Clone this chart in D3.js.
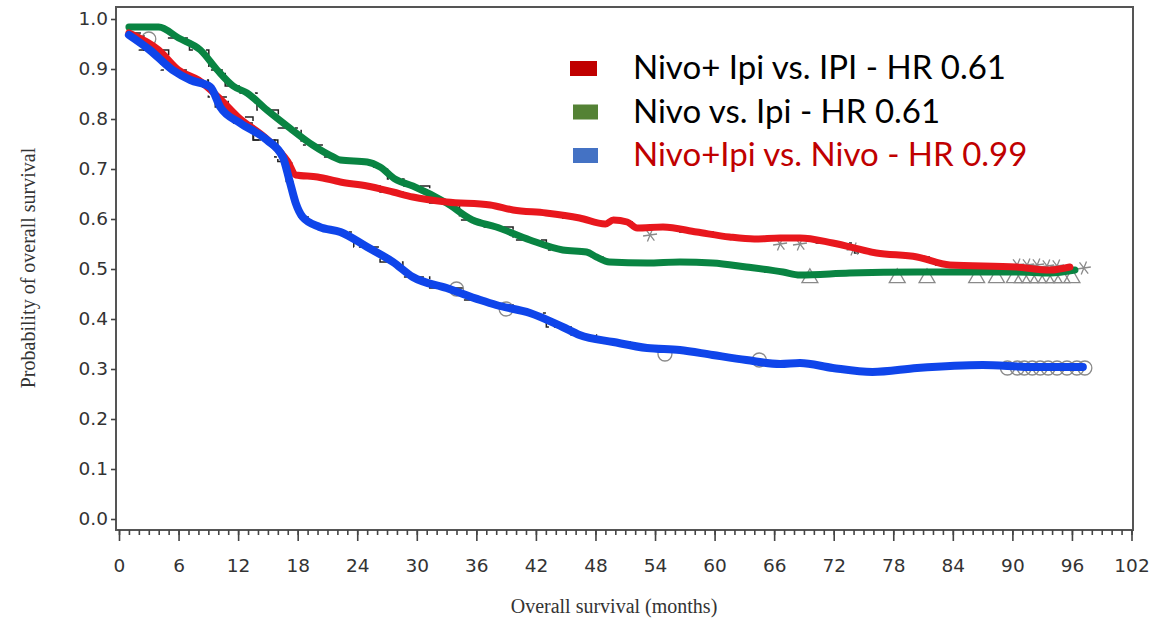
<!DOCTYPE html>
<html>
<head>
<meta charset="utf-8">
<script src="https://cdn.jsdelivr.net/npm/d3@7"></script>
<style>
  html, body { margin: 0; padding: 0; background: #fff; }
  svg { display: block; }
  .tick text { font-family: "DejaVu Sans", sans-serif; font-size: 18.5px; fill: #333; }
  .tick line { stroke: #444; stroke-width: 1.6; }
</style>
</head>
<body>
<svg id="canvas" width="1176" height="623"></svg>
<script>
// survival curves (months, probability)
const redMonths = [1, 4, 6, 8, 10, 12, 15, 17, 17.8, 20, 22.3, 25, 27.6, 29.6, 33, 37.4, 39.7, 43, 46.4, 49, 49.8, 51.2, 52.2, 54.8, 58.2, 61.5, 64, 66.6, 68.6, 71.9, 76.3, 80.4, 83.7, 90.4, 93.8, 95.8]
const redSurv = [0.972, 0.938, 0.898, 0.878, 0.844, 0.804, 0.758, 0.715, 0.688, 0.684, 0.674, 0.666, 0.654, 0.644, 0.634, 0.628, 0.618, 0.612, 0.602, 0.59, 0.598, 0.594, 0.582, 0.584, 0.574, 0.564, 0.56, 0.562, 0.562, 0.552, 0.532, 0.524, 0.508, 0.504, 0.498, 0.504]

const greenMonths = [1, 4, 6, 8.2, 9.9, 11.5, 12.9, 14.9, 17.2, 19.5, 21.6, 22.3, 25, 26.3, 27.8, 29.6, 33, 35.6, 38, 41.4, 44.7, 47.1, 48.1, 49.4, 53.2, 56.5, 59.8, 63.2, 66.9, 68.6, 73.6, 80.4, 90.4, 93.8, 96.3]
const greenSurv = [0.984, 0.984, 0.962, 0.938, 0.898, 0.866, 0.852, 0.818, 0.782, 0.748, 0.724, 0.718, 0.714, 0.704, 0.68, 0.666, 0.632, 0.598, 0.584, 0.558, 0.538, 0.534, 0.524, 0.514, 0.512, 0.514, 0.512, 0.504, 0.494, 0.488, 0.492, 0.494, 0.494, 0.492, 0.498]

const blueMonths = [1, 3.1, 5.4, 7.2, 9.2, 10.2, 12.2, 14.9, 16.5, 17.2, 17.8, 18.5, 20.2, 22.3, 25, 27.6, 29.6, 33, 36.4, 38, 41.4, 44.7, 46.4, 49.8, 53.2, 56.5, 59.8, 63.2, 66.6, 68.6, 71.9, 75.9, 80.4, 87, 92, 97.1]
const blueSurv = [0.968, 0.938, 0.898, 0.878, 0.864, 0.824, 0.792, 0.758, 0.724, 0.675, 0.632, 0.604, 0.584, 0.574, 0.544, 0.514, 0.484, 0.462, 0.438, 0.428, 0.412, 0.384, 0.368, 0.354, 0.342, 0.338, 0.328, 0.318, 0.31, 0.312, 0.302, 0.294, 0.302, 0.308, 0.304, 0.304]

// censored marks
const circleMonths = [3, 34, 39, 55, 64.5, 89.5, 90.5, 91.2, 92, 92.8, 93.6, 94.5, 95.5, 96.5, 97.3]
const circleSurv = [0.96, 0.46, 0.42, 0.33, 0.318, 0.302, 0.302, 0.302, 0.302, 0.302, 0.302, 0.302, 0.302, 0.302, 0.302]
const starMonths = [53.5, 66.6, 68.6, 74, 90.5, 91.5, 92.5, 93.5, 94.5, 97.2]
const starSurv = [0.568, 0.55, 0.55, 0.54, 0.508, 0.508, 0.508, 0.506, 0.506, 0.502]
const triMonths = [69.6, 78.4, 81.4, 86.4, 88.4, 90.2, 91, 91.8, 92.6, 93.4, 94.2, 95, 96]
const triSurv = [0.486, 0.486, 0.486, 0.486, 0.486, 0.486, 0.486, 0.486, 0.486, 0.486, 0.486, 0.486, 0.486]

const legendLabels = ["Nivo+ Ipi vs. IPI - HR 0.61", "Nivo vs. Ipi - HR 0.61", "Nivo+Ipi vs. Nivo - HR 0.99"]
const legendSwatch = ["#c00000", "#548235", "#4472c4"]
const legendText = ["#000", "#000", "#c00000"]

const xTicks = d3.range(0, 103, 6)
const yTicks = d3.range(0, 11).map(d => d / 10)

const svg = d3.select("#canvas")

const x = d3.scaleLinear().domain([0, 102]).range([119, 1131.5])
const y = d3.scaleLinear().domain([0, 1]).range([519, 19])

// frame
svg.append("rect")
   .attr("x", 116).attr("y", 7)
   .attr("width", 1133 - 116).attr("height", 530 - 7)
   .attr("fill", "none").attr("stroke", "#555").attr("stroke-width", 2)

// x axis, minor then major ticks
const xMinor = svg.append("g").attr("transform", "translate(0,530)")
  .call(d3.axisBottom(x).tickValues(d3.range(0, 103, 1)).tickSize(5).tickFormat(""))
xMinor.select(".domain").remove()
xMinor.selectAll(".tick line").attr("stroke", "#888").attr("stroke-width", 1.2)

const xAxis = svg.append("g").attr("transform", "translate(0,530)")
  .call(d3.axisBottom(x).tickValues(xTicks).tickSize(11).tickPadding(18))
xAxis.select(".domain").remove()

const yAxis = svg.append("g").attr("transform", "translate(116,0)")
  .call(d3.axisLeft(y).tickValues(yTicks).tickSize(5).tickPadding(3).tickFormat(d3.format(".1f")))
yAxis.select(".domain").remove()

// axis titles
svg.append("text")
   .attr("x", 614).attr("y", 613)
   .attr("text-anchor", "middle")
   .attr("font-family", "Liberation Serif, serif").attr("font-size", 20)
   .attr("fill", "#333")
   .text("Overall survival (months)")

svg.append("text")
   .attr("transform", "translate(35,268) rotate(-90)")
   .attr("text-anchor", "middle")
   .attr("font-family", "Liberation Serif, serif").attr("font-size", 20)
   .attr("fill", "#333")
   .text("Probability of overall survival")

const zip = (ms, vs) => ms.map((m, i) => [m, vs[i]])

const series = [
  { pts: zip(greenMonths, greenSurv), color: "#098442", w: 7 },
  { pts: zip(redMonths, redSurv), color: "#e8171d", w: 7 },
  { pts: zip(blueMonths, blueSurv), color: "#0f45ea", w: 8 }
]

// black dash-dot step curves underneath
const stepLine = d3.line().x(d => x(d[0])).y(d => y(d[1])).curve(d3.curveStep)
series.forEach(s => {
  svg.append("path")
     .attr("d", stepLine(s.pts))
     .attr("fill", "none")
     .attr("stroke", "#222")
     .attr("stroke-width", 1.5)
     .attr("stroke-dasharray", "12,5,3,5")
})

// censor marks
const gray = "#8a8a8a"
svg.selectAll(".cens-c")
   .data(zip(circleMonths, circleSurv))
   .enter().append("circle")
   .attr("cx", d => x(d[0])).attr("cy", d => y(d[1]))
   .attr("r", 7)
   .attr("fill", "none").attr("stroke", gray).attr("stroke-width", 1.3)

const tri = d3.symbol().type(d3.symbolTriangle).size(110)
svg.selectAll(".cens-t")
   .data(zip(triMonths, triSurv))
   .enter().append("path")
   .attr("d", tri())
   .attr("transform", d => "translate(" + x(d[0]) + "," + (y(d[1]) + 2) + ")")
   .attr("fill", "none").attr("stroke", gray).attr("stroke-width", 1.3)

const star = d3.symbol().type(d3.symbolAsterisk).size(140)
svg.selectAll(".cens-s")
   .data(zip(starMonths, starSurv))
   .enter().append("path")
   .attr("d", star())
   .attr("transform", d => "translate(" + x(d[0]) + "," + y(d[1]) + ") rotate(22)")
   .attr("fill", "none").attr("stroke", gray).attr("stroke-width", 1.3)

// thick coloured curves
const smooth = d3.line().x(d => x(d[0])).y(d => y(d[1])).curve(d3.curveMonotoneX)
series.forEach(s => {
  svg.append("path")
     .attr("d", smooth(s.pts))
     .attr("fill", "none")
     .attr("stroke", s.color)
     .attr("stroke-width", s.w)
     .attr("stroke-linejoin", "round")
     .attr("stroke-linecap", "round")
})

// legend
const legend = svg.selectAll(".legend")
  .data(legendLabels)
  .enter().append("g")
  .attr("transform", (d, i) => "translate(0," + (i * 43.5) + ")")

legend.append("rect")
      .attr("x", (d, i) => i === 0 ? 570 : 573)
      .attr("y", 61)
      .attr("width", (d, i) => i === 0 ? 27 : 25)
      .attr("height", 15)
      .attr("fill", (d, i) => legendSwatch[i])

legend.append("text")
      .attr("x", 633).attr("y", 79)
      .attr("font-family", "Lato, sans-serif").attr("font-size", 33)
      .attr("fill", (d, i) => legendText[i])
      .text(d => d)
</script>
</body>
</html>
